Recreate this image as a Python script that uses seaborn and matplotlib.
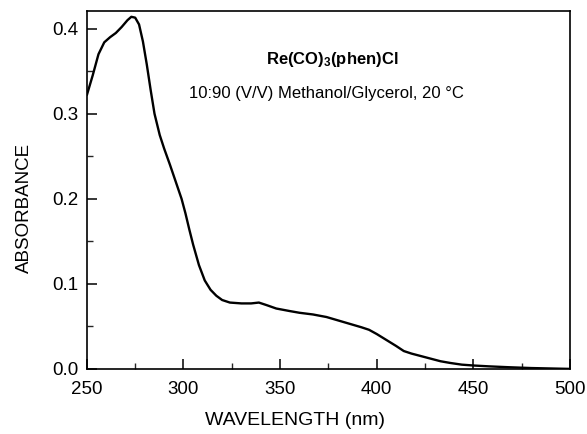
import matplotlib
matplotlib.use("Agg")
import matplotlib.pyplot as plt
import seaborn as sns
import pandas as pd
from matplotlib.ticker import MultipleLocator

# wavelength (nm) and absorbance
wavelength = [250, 253, 256, 259, 262, 265, 268, 271, 273, 275, 277, 279, 281,
              283, 285, 287.7, 290, 293, 296, 299, 301, 303, 305, 308, 311,
              314, 317, 320, 324, 330, 335, 339, 343, 348, 355, 360, 367, 374,
              380, 386, 392, 396, 400, 405, 410, 414, 418, 423, 428, 433, 438,
              444, 450, 458, 468, 480, 500]
absorbance = [0.322, 0.345, 0.370, 0.384, 0.390, 0.395, 0.402, 0.410, 0.414,
              0.413, 0.405, 0.385, 0.358, 0.328, 0.300, 0.275, 0.259, 0.240,
              0.220, 0.200, 0.183, 0.164, 0.146, 0.122, 0.104, 0.093, 0.086,
              0.081, 0.078, 0.077, 0.077, 0.078, 0.075, 0.071, 0.068, 0.066,
              0.064, 0.061, 0.057, 0.053, 0.049, 0.046, 0.041, 0.034, 0.027,
              0.021, 0.018, 0.015, 0.012, 0.009, 0.007, 0.005, 0.004, 0.003,
              0.002, 0.001, 0.000]

title_line = r"Re(CO)$_3$(phen)Cl"
cond_line = "10:90 (V/V) Methanol/Glycerol, 20 \u00b0C"

df = pd.DataFrame({"wl": wavelength, "abs": absorbance})

sns.set_style("ticks")
plt.rcParams["font.family"] = ["Liberation Sans", "DejaVu Sans"]
plt.rcParams["mathtext.default"] = "regular"
plt.rcParams["text.color"] = "black"
plt.rcParams["axes.labelcolor"] = "black"

fig = plt.figure(figsize=(5.87, 4.34), dpi=100)
ax = fig.add_axes([0.148, 0.150, 0.823, 0.825])

sns.lineplot(data=df, x="wl", y="abs", ax=ax, color="black", linewidth=1.7)

ax.set_xlim(250, 500)
ax.set_ylim(0, 0.421)
ax.xaxis.set_major_locator(MultipleLocator(50))
ax.xaxis.set_minor_locator(MultipleLocator(25))
ax.yaxis.set_major_locator(MultipleLocator(0.1))
ax.yaxis.set_minor_locator(MultipleLocator(0.05))
ax.yaxis.set_major_formatter(plt.FuncFormatter(lambda v, p: f"{v:.1f}"))
ax.tick_params(which="major", direction="in", length=7, width=1.1,
               labelsize=13.5, pad=6, colors="black")
ax.tick_params(axis="x", which="major", pad=9)
ax.tick_params(which="minor", direction="in", length=4, width=1.0)
for s in ax.spines.values():
    s.set_linewidth(1.2)
    s.set_color("black")

ax.set_xlabel("WAVELENGTH (nm)", fontsize=14)
ax.set_ylabel("ABSORBANCE", fontsize=13.5)
ax.xaxis.set_label_coords(0.43, -0.12)
ax.yaxis.set_label_coords(-0.112, 0.45)

ax.text(377, 0.364, title_line, ha="center", va="center", fontsize=12,
        fontweight="bold")
ax.text(374, 0.324, cond_line, ha="center", va="center", fontsize=12)

fig.savefig("out.png", dpi=100)
